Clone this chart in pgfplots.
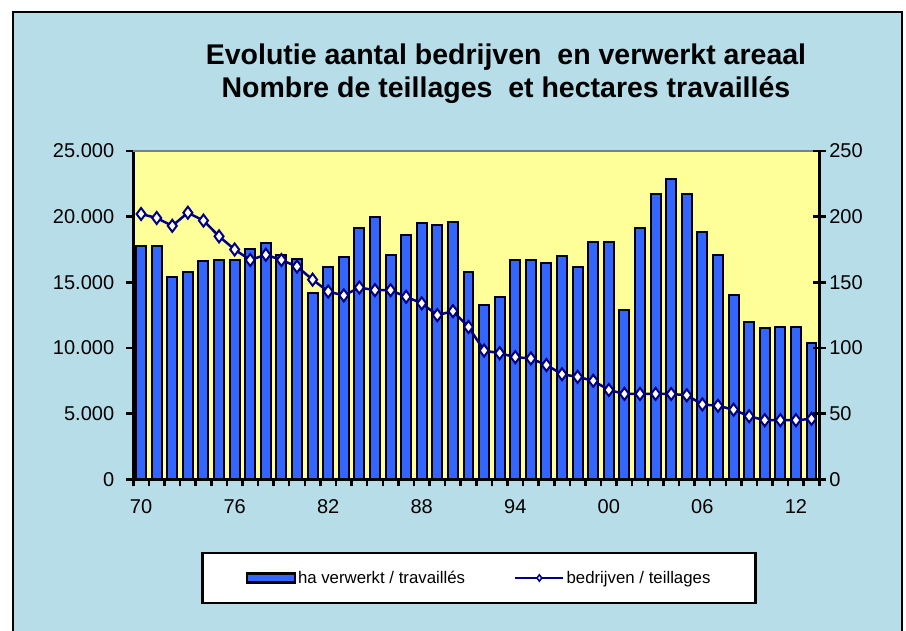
\documentclass[border=0pt]{standalone}
\usepackage{fontspec}
\setmainfont{Liberation Sans}
\usepackage{pgfplots}
\pgfplotsset{compat=1.18}
\usepackage{pgfplotstable}
\definecolor{framebg}{RGB}{183,221,232}
\definecolor{plotbg}{RGB}{255,255,153}
\definecolor{barblue}{RGB}{51,102,255}
\definecolor{navyline}{RGB}{0,0,128}
\definecolor{topgray}{RGB}{128,128,128}
\pgfplotstableread{
i year ha bedr
0 1970 17800 202
1 1971 17800 199
2 1972 15400 193
3 1973 15800 203
4 1974 16600 197
5 1975 16700 185
6 1976 16700 175
7 1977 17500 167
8 1978 18000 171
9 1979 17100 167
10 1980 16800 162
11 1981 14200 152
12 1982 16200 143
13 1983 16900 140
14 1984 19100 146
15 1985 20000 144
16 1986 17100 144
17 1987 18600 139
18 1988 19500 134
19 1989 19400 125
20 1990 19600 128
21 1991 15800 116
22 1992 13300 98
23 1993 13900 96
24 1994 16700 93
25 1995 16700 92
26 1996 16500 87
27 1997 17000 80
28 1998 16200 78
29 1999 18100 75
30 2000 18100 68
31 2001 12900 65
32 2002 19100 65
33 2003 21700 65
34 2004 22900 65
35 2005 21700 64
36 2006 18800 57
37 2007 17100 56
38 2008 14000 53
39 2009 12000 48
40 2010 11500 45
41 2011 11600 45
42 2012 11600 45
43 2013 10400 46
}\datatable
\begin{document}
\begin{tikzpicture}[x=1pt,y=1pt]
\path[use as bounding box] (0,0) rectangle (906,631);
\fill[white] (0,0) rectangle (906,631);
\begin{scope}
\clip (0,0) rectangle (906,631);
\draw[fill=framebg, line width=2pt] (13.3,-10) rectangle (901.7,619);
\end{scope}
\node[font=\fontsize{28.5}{30}\selectfont\bfseries, anchor=base, inner sep=0pt] at (506,566.7) {Evolutie aantal bedrijven\ \ en verwerkt areaal};
\node[font=\fontsize{28.5}{30}\selectfont\bfseries, anchor=base, inner sep=0pt] at (506,533.5) {Nombre de teillages\ \ et hectares travaillés};

\begin{axis}[
  at={(133.3pt,151.7pt)}, anchor=south west,
  width=686pt, height=328.3pt, scale only axis,
  xmin=-0.5, xmax=43.5, ymin=0, ymax=25000,
  axis x line*=bottom, axis y line*=left,
  axis background/.style={fill=plotbg},
  axis line style={line width=2.5pt, black},
  x axis line style={-}, y axis line style={-},
  tick align=outside,
  tick style={black, line width=2.5pt},
  major tick length=7pt,
  xtick={-0.5,0.5,...,43.5},
  xticklabels={},
  extra x ticks={0,6,...,42},
  extra x tick labels={70,76,82,88,94,00,06,12},
  extra x tick style={major tick length=0pt, grid=none},
  ytick={0,5000,...,25000},
  scaled y ticks=false,
  /pgf/number format/assume math mode=true,
  tick label style={font=\fontsize{20}{24}\selectfont},
  xticklabel style={yshift=-17pt},
  yticklabel style={xshift=-8.6pt, /pgf/number format/fixed, /pgf/number format/1000 sep={.}},
  clip=false,
]
\addplot[ybar, bar width=0.64, fill=barblue, draw=black, line width=2pt] table[x=i, y=ha] {\datatable};
\draw[topgray, line width=2.5pt] (rel axis cs:0,1) -- (rel axis cs:1,1);
\end{axis}

\begin{axis}[
  at={(133.3pt,151.7pt)}, anchor=south west,
  width=686pt, height=328.3pt, scale only axis,
  xmin=-0.5, xmax=43.5, ymin=0, ymax=250,
  axis x line=none, axis y line*=right,
  axis line style={line width=2.5pt, black},
  y axis line style={-},
  tick align=center,
  tick style={black, line width=2.5pt},
  major tick length=13pt,
  ytick={0,50,...,250},
  /pgf/number format/assume math mode=true,
  tick label style={font=\fontsize{20}{24}\selectfont},
  clip=false,
  legend columns=2,
  legend style={at={(0.5039,-0.3006)}, anchor=center, draw=black, line width=2.5pt, fill=white,
    inner xsep=43pt, inner ysep=16pt, font=\fontsize{16.8}{19}\selectfont,
    nodes={inner sep=2pt},
    /tikz/every odd column/.append style={column sep=0pt},
    /tikz/every even column/.append style={column sep=47pt}},
]
\addlegendimage{legend image code/.code={\draw[fill=barblue, draw=black, line width=2.5pt] (0pt,-4.3pt) rectangle (48pt,4.3pt);}}
\addlegendentry{ha verwerkt / travaillés}
\addplot[navyline, line width=2.5pt, mark=diamond*, mark size=6pt,
  mark options={fill=white, draw=navyline, line width=2pt},
  legend image code/.code={\draw[navyline, line width=2.5pt] (0pt,0pt) -- (48pt,0pt);
    \draw[mark repeat=2, mark phase=2, navyline, line width=2pt, mark=diamond*, mark size=3.2pt, mark options={fill=white, draw=navyline, line width=1.5pt}, draw=none] plot coordinates {(0pt,0pt) (24pt,0pt) (48pt,0pt)};}]
  table[x=i, y=bedr] {\datatable};
\addlegendentry{bedrijven / teillages}
\end{axis}
\end{tikzpicture}
\end{document}
